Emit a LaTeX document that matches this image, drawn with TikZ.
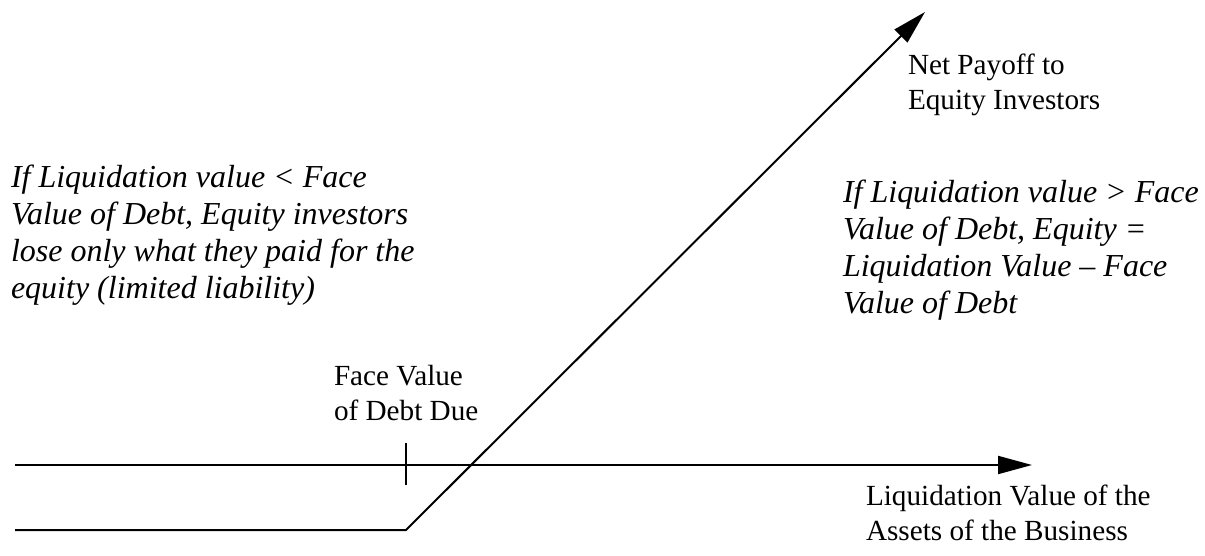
\documentclass[tikz,border=0pt]{standalone}
\usepackage{fontspec}
\setmainfont{Liberation Serif}
\usetikzlibrary{arrows.meta}
\tikzset{plainlabel/.style={anchor=base west, inner sep=0pt, align=left, font=\fontsize{14.6}{17.5}\selectfont},italiclabel/.style={anchor=base west, inner sep=0pt, align=left, font=\fontsize{16}{18.5}\selectfont\itshape}}

\begin{document}
\begin{tikzpicture}[
        x=0.5pt, y=-0.5pt,
        line width=1pt,
        arrowline/.style={-{Triangle[length=17pt, width=9pt]}}
    ]
        \useasboundingbox (0,0) rectangle (1205,556);
        % Points
        \coordinate (axisstart) at (15,465);
        \coordinate (axisend) at (1032,465);
        \coordinate (tickup) at (406,443);
        \coordinate (tickdown) at (406,485);
        \coordinate (payoffstart) at (15,530);
        \coordinate (kink) at (406,530);
        \coordinate (payoffend) at (925,12);
        % Axis
        \draw[arrowline] (axisstart) -- (axisend);
        \draw (tickup) -- (tickdown);
        % Payoff
        \draw[arrowline] (payoffstart) -- (kink) -- (payoffend);
        % Labels (anchored at the last baseline)
        \node[plainlabel] (payofflabel) at (907,110) {Net Payoff to\\Equity Investors};
        \node[plainlabel] (debtlabel) at (333,420) {Face Value\\of Debt Due};
        \node[plainlabel] (axislabel) at (865,540) {Liquidation Value of the\\Assets of the Business};
        \node[italiclabel] (lossnote) at (10,298) {If Liquidation value < Face\\Value of Debt, Equity investors\\lose only what they paid for the\\equity (limited liability)};
        \node[italiclabel] (gainnote) at (842,313) {If Liquidation value > Face\\Value of Debt, Equity =\\Liquidation Value -- Face\\Value of Debt};
    \end{tikzpicture}
\end{document}
